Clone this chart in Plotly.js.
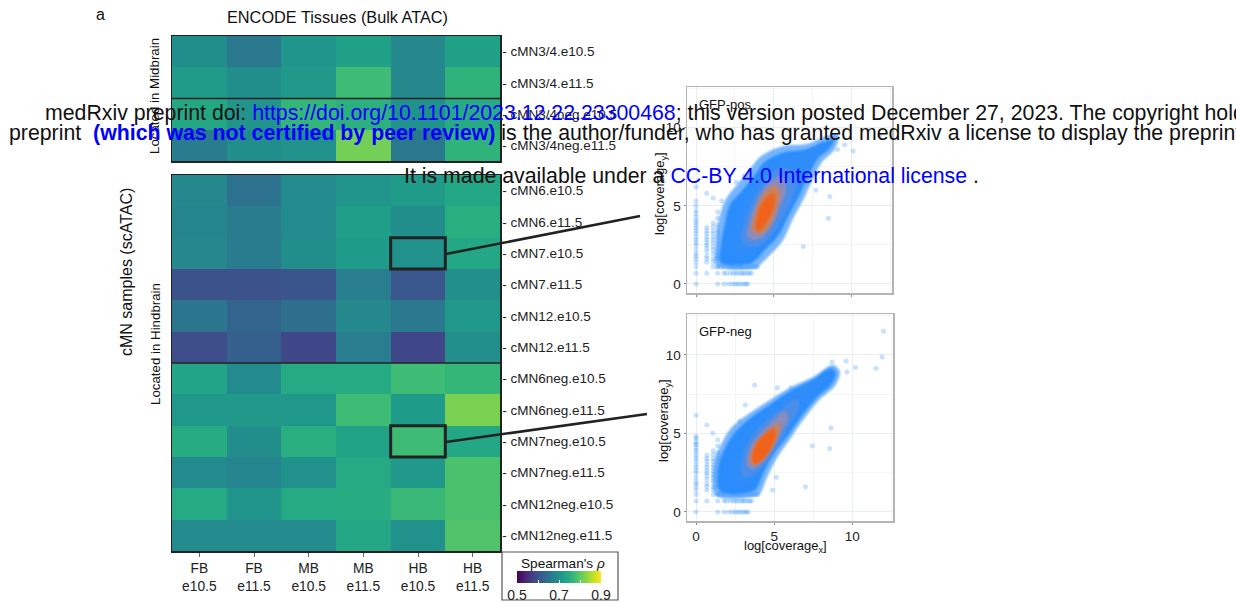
<!DOCTYPE html>
<html><head><meta charset="utf-8">
<script src="https://cdn.plot.ly/plotly-3.0.1.min.js"></script>
<style>html,body{margin:0;padding:0;background:#fff;overflow:hidden}
.js-fill{filter:blur(1.2px)}</style></head>
<body><div id="chart" style="width:1236px;height:603px"></div>
<script>
const tissueLabels = ["FB<br>e10.5","FB<br>e11.5","MB<br>e10.5","MB<br>e11.5","HB<br>e10.5","HB<br>e11.5"];
const midbrainRows = ["cMN3/4.e10.5","cMN3/4.e11.5","cMN3/4neg.e10.5","cMN3/4neg.e11.5"];
const hindbrainRows = ["cMN6.e10.5","cMN6.e11.5","cMN7.e10.5","cMN7.e11.5","cMN12.e10.5","cMN12.e11.5","cMN6neg.e10.5","cMN6neg.e11.5","cMN7neg.e10.5","cMN7neg.e11.5","cMN12neg.e10.5","cMN12neg.e11.5"];
const midbrainValues = [
 [.695,.660,.708,.728,.685,.728],
 [.718,.695,.715,.775,.685,.760],
 [.740,.705,.765,.755,.700,.745],
 [.665,.695,.700,.815,.660,.760]];
const hindbrainValues = [
 [.685,.650,.690,.705,.718,.738],
 [.680,.665,.690,.725,.695,.752],
 [.685,.665,.695,.720,.700,.738],
 [.600,.600,.605,.668,.608,.698],
 [.655,.628,.645,.685,.660,.713],
 [.595,.620,.585,.668,.585,.698],
 [.733,.690,.743,.743,.775,.765],
 [.710,.715,.710,.775,.720,.820],
 [.748,.695,.752,.730,.775,.738],
 [.690,.680,.700,.743,.715,.785],
 [.743,.705,.743,.748,.768,.785],
 [.690,.690,.690,.738,.700,.790]];

// Density bands of the coverage clouds, outermost first
const bandColors = ["rgba(60,150,255,0.7)","#2b8dfd","#2f8dfa","#4b8eea","#8a8cbc","#c9815f","#f0621a"];
const posBandsX = [
 [1.3,1.3,1.4,1.9,2.6,3.5,4.2,5.5,7.1,8.5,9.15,8.9,8.1,7.5,6.9,6.2,5.6,4.8,4.1,3.9],
 [1.6,1.6,1.8,2.2,2.9,3.8,4.4,5.6,7.1,8.4,8.9,8.6,7.8,7.2,6.6,5.9,5.3,4.5,3.8,3.5],
 [2.3,2.5,3.0,3.8,4.6,5.6,6.9,8.2,7.6,6.9,6.2,5.5,4.6,3.7,2.7],
 [3.0,3.1,3.6,4.4,5.3,6.2,6.4,6.0,5.4,4.7,3.8],
 [3.3,3.5,4.0,4.7,5.5,5.8,5.4,4.9,4.3,3.7],
 [3.6,3.8,4.3,5.0,5.4,5.2,4.8,4.2],
 [3.85,4.05,4.6,5.0,5.05,4.75,4.3,3.95]];
const posBandsY = [
 [1.2,2.6,3.8,5.4,6.3,7.4,8.2,8.8,8.95,9.5,9.5,8.6,7.8,6.7,5.4,4.1,2.8,1.9,1.2,1.0],
 [1.35,2.5,3.6,5.1,5.9,7.0,7.8,8.4,8.6,9.15,9.25,8.7,8.0,6.9,5.6,4.3,3.1,2.25,1.5,1.3],
 [2.2,3.6,5.0,6.4,7.3,8.0,8.4,9.0,7.9,6.6,5.2,3.9,2.9,2.0,1.7],
 [2.6,3.9,5.2,6.5,7.4,7.2,6.2,5.1,3.9,2.9,2.4],
 [3.0,4.2,5.5,6.5,6.9,6.1,4.9,3.8,3.0,2.8],
 [3.4,4.5,5.7,6.3,5.9,4.8,3.8,3.2],
 [3.8,4.8,5.6,5.8,5.2,4.3,3.6,3.4]];
const negBandsX = [
 [1.3,1.2,1.6,2.2,3.3,4.6,6.0,7.5,8.75,9.2,8.9,7.9,6.85,5.95,5.15,4.5,4.1,3.85],
 [1.55,1.5,1.85,2.45,3.5,4.75,6.03,7.52,8.65,8.95,8.65,7.7,6.65,5.75,4.9,4.25,3.85,3.6],
 [2.3,2.6,3.3,4.3,5.3,6.5,7.6,8.4,8.3,7.4,6.3,5.3,4.4,3.4,2.6],
 [2.9,3.1,3.7,4.6,5.5,6.4,6.6,5.9,5.1,4.4,3.7,3.1],
 [3.25,3.45,4.1,4.9,5.7,5.9,5.4,4.8,4.2,3.6],
 [3.45,3.7,4.3,5.0,5.4,5.3,4.9,4.4,3.8],
 [3.6,3.85,4.4,4.95,5.1,4.85,4.4,3.85]];
const negBandsY = [
 [1.05,3.3,4.3,5.3,6.2,7.05,7.9,8.6,9.35,8.95,8.05,7.15,5.85,4.55,3.4,2.1,1.15,1.0],
 [1.3,3.2,4.06,5.02,5.98,6.84,7.7,8.44,9.15,8.85,8.12,7.26,5.98,4.7,3.63,2.35,1.45,1.3],
 [2.2,3.8,5.1,6.1,6.95,7.75,8.35,8.85,8.35,7.35,5.9,4.4,3.0,1.9,1.6],
 [2.7,3.9,5.0,5.9,6.6,7.2,6.7,5.4,4.0,3.0,2.4,2.2],
 [3.0,4.1,5.0,5.8,6.4,6.0,5.0,3.9,3.1,2.7],
 [3.2,4.2,4.9,5.5,5.6,5.0,4.1,3.4,3.0],
 [3.2,4.35,4.95,5.3,4.85,4.15,3.5,3.05]];

// Low-count points fall on a lattice of log-integers
const lowColumns = [
 {x:0,    y:[0,.69,1.1,1.39,1.61,1.79,1.95,2.2,2.48,2.64,2.83,3.0,3.22,3.4,3.58,3.76,3.93,4.09,4.3,4.5,4.7]},
 {x:.69,  y:[.69,1.39,1.61,1.79,2.08,2.3,2.48,2.64,2.83,3.0,3.22,3.4,3.61]},
 {x:1.1,  y:[1.1,1.39,1.61,1.95,2.2,2.4,2.64,2.83,3.0,3.22,3.4,3.66,3.9]},
 {x:1.39, y:[1.1,1.61,1.79,2.08,2.3,2.56,2.77,3.0,3.22,3.47,3.76,4.2,4.6]}];
const lowRows = [
 {y:0,    x:[1.39,1.79,2.08,2.3,2.48,2.64,2.77,2.94,3.09,3.22,3.33]},
 {y:.69,  x:[1.39,1.79,1.95,2.2,2.4,2.56,2.71,2.89,3.0,3.14,3.3,3.43,3.56]},
 {y:1.1,  x:[1.39,1.61,1.79,2.08,2.3,2.48,2.71,2.89,3.0,3.22,3.4,3.58,3.76,3.93]}];
const posOutliersX = [10.1,9.55,8.6,8.5,6.9,11.8,2.6,0.69,1.1,1.65,0,0,0,8.95,9.1,7.7,3.1];
const posOutliersY = [8.5,8.9,5.6,4.2,2.4,9.5,6.5,5.8,5.5,5.3,6.2,5.3,5.0,9.5,8.6,6.0,6.9];
const negOutliersX = [12,11.9,11.5,10.2,9.6,9.65,8.7,3.75,3.15,5.2,.69,0,1.07,8.63,8.55,7.44,7,5.13,4.9,2.8,6.07,0,0];
const negOutliersY = [11.5,9.87,9.15,9.2,9.6,8.9,9.55,8.08,6.8,7.9,5.53,6.15,5.02,5.34,4.04,4.19,1.6,2.2,1.4,5.77,7.9,4.8,4.3];

const W=1236,H=603;
const domX=(a,b)=>[a/W,b/W], domY=(t,b)=>[1-b/H,1-t/H];
const px=v=>v/W, py=v=>1-v/H;
const FONT="Liberation Sans, Arial, sans-serif", INK="#222222";
const idx=a=>a.map((_,i)=>i);

const traces=[
 {type:'heatmap',z:midbrainValues,x:idx(tissueLabels),y:idx(midbrainRows),xaxis:'x',yaxis:'y',coloraxis:'coloraxis',hoverinfo:'skip'},
 {type:'heatmap',z:hindbrainValues,x:idx(tissueLabels),y:idx(hindbrainRows),xaxis:'x2',yaxis:'y2',coloraxis:'coloraxis',hoverinfo:'skip'}
];
function cloud(xs,ys,ox,oy,xa,ya){
 const ptX=[],ptY=[];
 lowColumns.forEach(c=>c.y.forEach(v=>{ptX.push(c.x);ptY.push(v);}));
 lowRows.forEach(r=>r.x.forEach(v=>{ptX.push(v);ptY.push(r.y);}));
 traces.push({type:'scatter',mode:'markers',x:ptX.concat(ox),y:ptY.concat(oy),xaxis:xa,yaxis:ya,
   marker:{size:5,color:'rgba(40,140,255,0.26)',line:{width:0}},hoverinfo:'skip',showlegend:false});
 xs.forEach((bx,i)=>traces.push({type:'scatter',mode:'lines',x:bx.concat(bx[0]),y:ys[i].concat(ys[i][0]),xaxis:xa,yaxis:ya,
   fill:'toself',fillcolor:bandColors[i],line:{color:'rgba(0,0,0,0)',width:0,shape:'spline',smoothing:1},hoverinfo:'skip',showlegend:false}));
}
cloud(posBandsX,posBandsY,posOutliersX,posOutliersY,'x3','y3');
cloud(negBandsX,negBandsY,negOutliersX,negOutliersY,'x4','y4');

const heatX=(dom,labels)=>({domain:dom,range:[-.5,5.5],showgrid:false,zeroline:false,showline:true,mirror:true,linecolor:INK,linewidth:1.5,
  tickvals:labels?idx(tissueLabels):[],ticktext:labels?tissueLabels:[],ticks:labels?'outside':'',ticklen:4,tickcolor:'#666',tickfont:{size:13.8,color:INK,family:FONT}});
const heatY=(dom,rows,anchor)=>({domain:dom,anchor,range:[rows.length-.5,-.5],side:'right',showgrid:false,zeroline:false,showline:true,mirror:true,linecolor:INK,linewidth:1.5,
  tickvals:idx(rows),ticktext:rows.map(r=>'- '+r),ticks:'',ticklabelstandoff:-2,tickfont:{size:13.5,color:INK,family:FONT}});
const scatX=(dom,labels,anchor)=>({domain:dom,anchor,range:[-.58,12.6],tick0:0,dtick:5,ticks:'outside',ticklen:2,tickcolor:'#888',
  showticklabels:labels,tickfont:{size:13.5,color:INK,family:FONT},gridcolor:'#e9eef0',gridwidth:1,zeroline:false,showline:true,mirror:true,linecolor:'#b4b4b4',linewidth:1.5,
  minor:{dtick:2.5,showgrid:true,gridcolor:'#f3f6f7',gridwidth:1,ticks:''}});
const scatY=(dom,anchor)=>({domain:dom,anchor,range:[-.58,12.6],tick0:0,dtick:5,ticks:'outside',ticklen:2,tickcolor:'#888',
  tickfont:{size:13.5,color:INK,family:FONT},gridcolor:'#e9eef0',gridwidth:1,zeroline:false,showline:true,mirror:true,linecolor:'#b4b4b4',linewidth:1.5,
  minor:{dtick:2.5,showgrid:true,gridcolor:'#f3f6f7',gridwidth:1,ticks:''}});

const lab=(text,x,y,size,extra)=>Object.assign({text,x:px(x),y:py(y),xref:'paper',yref:'paper',showarrow:false,xanchor:'center',yanchor:'middle',font:{size,color:'#111',family:FONT}},extra||{});
const BLUE='#0000ff';
const annotations=[
 lab('a',100,15,16),
 lab('ENCODE Tissues (Bulk ATAC)',337,17,16.3),
 lab('Located in Midbrain',155,96,13.3,{textangle:-90}),
 lab('Located in Hindbrain',155,344,13.3,{textangle:-90}),
 lab('cMN samples (scATAC)',127,272,16,{textangle:-90}),
 lab('GFP-pos',725,105,13),
 lab('GFP-neg',725,331,13),
 lab('log[coverage<sub>x</sub>]',785,546,13),
 lab('log[coverage<sub>y</sub>]',660,194,13,{textangle:-90}),
 lab('log[coverage<sub>y</sub>]',664,420,13,{textangle:-90}),
 lab("Spearman's <i>ρ</i>",563,563,13.6),
 lab('medRxiv preprint doi: <span style="color:'+BLUE+'">https://doi.org/10.1101/2023.12.22.23300468</span>; this version posted December 27, 2023. The copyright holder for this',43,113,21.3,{xanchor:'left'}),
 lab('preprint  <b style="color:'+BLUE+'">(which was not certified by peer review)</b> is the author/funder, who has granted medRxiv a license to display the preprint in perpetuity.',7,133,21.3,{xanchor:'left'}),
 lab('It is made available under a <span style="color:'+BLUE+'">CC-BY 4.0 International license</span> .',402,176,21.3,{xanchor:'left'})
];
const shapes=[
 {type:'line',xref:'x domain',yref:'y',x0:0,x1:1,y0:1.5,y1:1.5,line:{color:INK,width:1.5}},
 {type:'line',xref:'x2 domain',yref:'y2',x0:0,x1:1,y0:5.5,y1:5.5,line:{color:INK,width:1.5}},
 {type:'rect',xref:'x2',yref:'y2',x0:3.5,x1:4.5,y0:1.5,y1:2.5,line:{color:INK,width:3}},
 {type:'rect',xref:'x2',yref:'y2',x0:3.5,x1:4.5,y0:7.5,y1:8.5,line:{color:INK,width:3}},
 {type:'line',xref:'paper',yref:'paper',x0:px(446),y0:py(254),x1:px(640),y1:py(216),line:{color:INK,width:2.5}},
 {type:'line',xref:'paper',yref:'paper',x0:px(446),y0:py(442),x1:px(647),y1:py(414),line:{color:INK,width:2.5}},
 {type:'rect',xref:'paper',yref:'paper',x0:px(502),x1:px(618),y0:py(552),y1:py(600),line:{color:'#555',width:1.2}}
];
const layout={width:W,height:H,margin:{l:0,r:0,t:0,b:0,autoexpand:false},paper_bgcolor:'#fff',plot_bgcolor:'#fff',showlegend:false,font:{family:FONT},
 xaxis:Object.assign(heatX(domX(172,500),false),{anchor:'y'}),
 yaxis:heatY(domY(36,161),midbrainRows,'x'),
 xaxis2:Object.assign(heatX(domX(172,500),true),{anchor:'y2'}),
 yaxis2:heatY(domY(175,551),hindbrainRows,'x2'),
 xaxis3:scatX(domX(687,892),false,'y3'),
 yaxis3:scatY(domY(87,293),'x3'),
 xaxis4:scatX(domX(687,893),true,'y4'),
 yaxis4:scatY(domY(314,521),'x4'),
 coloraxis:{colorscale:'Viridis',cmin:.5,cmax:.9,colorbar:{orientation:'h',lenmode:'pixels',len:84,thickness:12,x:px(559),xanchor:'center',y:py(571),yanchor:'top',xpad:0,ypad:0,
   outlinewidth:0,tickvals:[.5,.6,.7,.8,.9],ticktext:['0.5','','0.7','','0.9'],ticks:'inside',ticklen:3,tickcolor:'#ffffff',tickfont:{size:14,color:INK,family:FONT}}},
 annotations,shapes};
Plotly.newPlot('chart',traces,layout,{staticPlot:true,displayModeBar:false});
</script></body></html>
